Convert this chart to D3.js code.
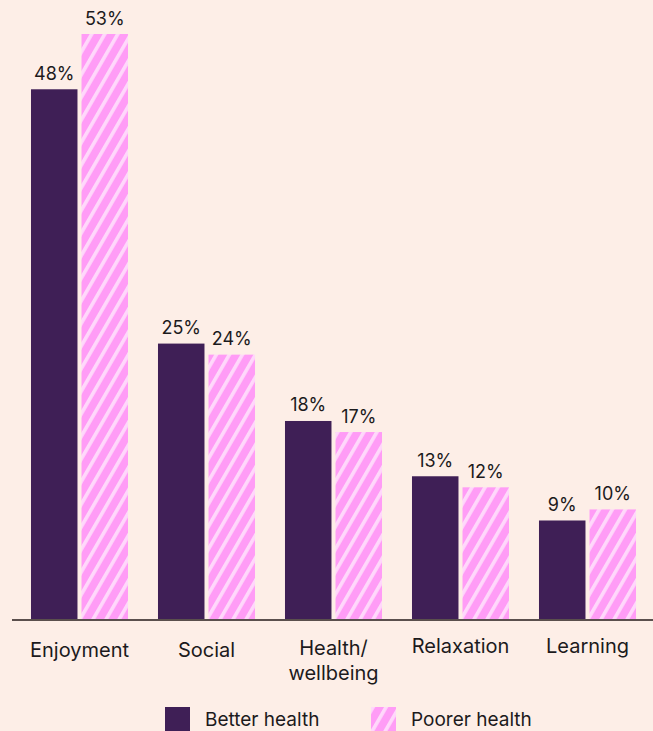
<!DOCTYPE html>
<html>
<head>
<meta charset="utf-8">
<script src="https://cdn.jsdelivr.net/npm/d3@7"></script>
<style>
  html, body { margin: 0; padding: 0; background: #fdeee7; }
  svg { display: block; }
  text { font-family: Inter, "Noto Sans", sans-serif; fill: #1c1a1c; }
</style>
</head>
<body>
<svg id="chart" width="653" height="731"></svg>
<script>
// Reasons for taking part, by self-reported health
const categories = ["Enjoyment", "Social", "Health/\nwellbeing", "Relaxation", "Learning"];
const series = ["Better health", "Poorer health"];
const betterHealth = [48, 25, 18, 13, 9];
const poorerHealth = [53, 24, 17, 12, 10];

const W = 653, H = 731;
const baseY = 620;
const svg = d3.select("#chart");

svg.append("rect").attr("width", W).attr("height", H).attr("fill", "#fdeee7");

// diagonal stripe fill for the second series
const defs = svg.append("defs");
const pat = defs.append("pattern")
  .attr("id", "stripes")
  .attr("patternUnits", "userSpaceOnUse")
  .attr("width", 11.3).attr("height", 11.3)
  .attr("patternTransform", "rotate(30)");
pat.append("rect").attr("width", 11.3).attr("height", 11.3).attr("fill", "#ff9cf6");
pat.append("rect").attr("width", 3.6).attr("height", 11.3).attr("fill", "#ffd8fb");

const x0 = d3.scaleBand().domain(categories).range([16, 651]).paddingInner(0.236).paddingOuter(0.118);
const x1 = d3.scaleBand().domain(series).range([0, x0.bandwidth()]).paddingInner(0.08);
const y = d3.scaleLinear().domain([0, 53]).range([baseY, 34]);

const fills = { "Better health": "#3f1f56", "Poorer health": "url(#stripes)" };

const rows = categories.map((c, i) => ({
  cat: c,
  vals: [
    { key: series[0], v: betterHealth[i] },
    { key: series[1], v: poorerHealth[i] }
  ]
}));

const g = svg.append("g");
const grp = g.selectAll("g.cat").data(rows).join("g")
  .attr("class", "cat")
  .attr("transform", d => `translate(${x0(d.cat)},0)`);

grp.selectAll("rect").data(d => d.vals).join("rect")
  .attr("x", d => x1(d.key))
  .attr("width", x1.bandwidth())
  .attr("y", d => y(d.v))
  .attr("height", d => baseY - y(d.v))
  .attr("fill", d => fills[d.key]);

grp.selectAll("text.val").data(d => d.vals).join("text")
  .attr("class", "val")
  .attr("x", d => x1(d.key) + x1.bandwidth() / 2)
  .attr("y", d => y(d.v) - 9.5)
  .attr("text-anchor", "middle")
  .attr("font-size", 18)
  .text(d => d.v + "%");

// baseline
svg.append("line")
  .attr("x1", 12).attr("x2", W)
  .attr("y1", baseY).attr("y2", baseY)
  .attr("stroke", "#5a4f4d").attr("stroke-width", 2);

// category labels: single lines, two-line label slightly raised, last two a little higher
const labelY = c => (c === "Relaxation" || c === "Learning") ? 653 : c.includes("\n") ? 655 : 657;
svg.selectAll("text.cat").data(categories).join("text")
  .attr("class", "cat")
  .attr("text-anchor", "middle")
  .attr("font-size", 20)
  .attr("x", c => x0(c) + x0.bandwidth() / 2)
  .attr("y", c => labelY(c))
  .each(function (c) {
    const parts = c.split("\n");
    d3.select(this).selectAll("tspan").data(parts).join("tspan")
      .attr("x", x0(c) + x0.bandwidth() / 2)
      .attr("dy", (p, i) => i === 0 ? 0 : 24.5)
      .text(p => p);
  });

// legend
const legend = svg.append("g").attr("transform", "translate(165,707)");
const items = legend.selectAll("g").data(series).join("g")
  .attr("transform", (d, i) => `translate(${i * 206},0)`);
items.append("rect").attr("width", 25).attr("height", 25).attr("fill", d => fills[d]);
items.append("text").attr("x", 40).attr("y", 19).attr("font-size", 19).text(d => d);
</script>
</body>
</html>
